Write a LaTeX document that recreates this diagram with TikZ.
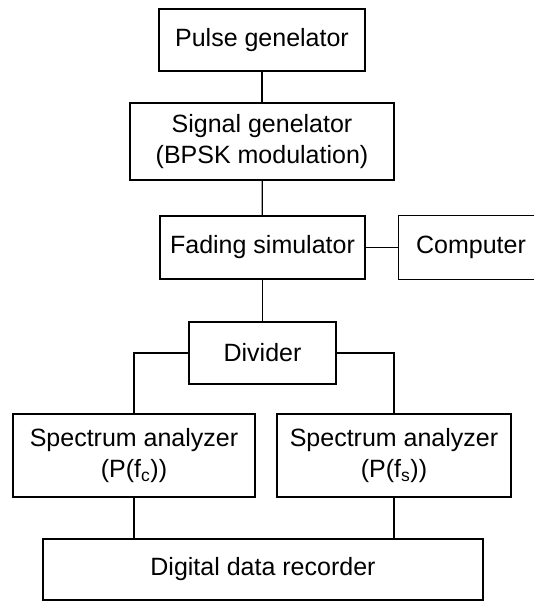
\documentclass[tikz,border=0pt]{standalone}
\usepackage{fontspec}
\setmainfont{Liberation Sans}

\begin{document}
\begin{tikzpicture}[x=1pt, y=-1pt, line width=1.2pt,
        box/.style={draw=black, align=center, inner sep=0pt,
            font=\fontsize{25}{31}\selectfont}]
        \useasboundingbox (0,0) rectangle (534,603);

        \node[box, minimum width=206, minimum height=62] (pulse) at (262,40) {Pulse genelator};
        \node[box, minimum width=264, minimum height=77] (siggen) at (262,141.5) {Signal genelator\\(BPSK modulation)};
        \node[box, minimum width=205, minimum height=63] (fading) at (262.5,247.5) {Fading simulator};
        % runs off the right edge of the page
        \node[box, draw=none, minimum width=144, minimum height=63] (computer) at (471,247.5) {Computer};
        \draw (computer.north west) rectangle ([xshift=30]computer.south east);
        \node[box, minimum width=147, minimum height=62] (divider) at (262.5,353) {Divider};

        \node[box, minimum width=242, minimum height=83] (spec_c) at (134,455.5) {Spectrum analyzer\\(P(f\textsubscript{c}))};
        \node[box, minimum width=234, minimum height=83] (spec_s) at (394,455.5) {Spectrum analyzer\\(P(f\textsubscript{s}))};

        \node[box, minimum width=440, minimum height=61] (recorder) at (263,569.5) {Digital data recorder};

        \draw (pulse) -- (siggen);
        \draw (siggen) -- (fading);
        \draw (fading) -- (divider);
        \draw (fading) -- (computer);

        \draw (divider.west) -| (spec_c.north);
        \draw (divider.east) -| (spec_s.north);

        \draw (spec_c.south) -- (spec_c.south |- recorder.north);
        \draw (spec_s.south) -- (spec_s.south |- recorder.north);
    \end{tikzpicture}
\end{document}
